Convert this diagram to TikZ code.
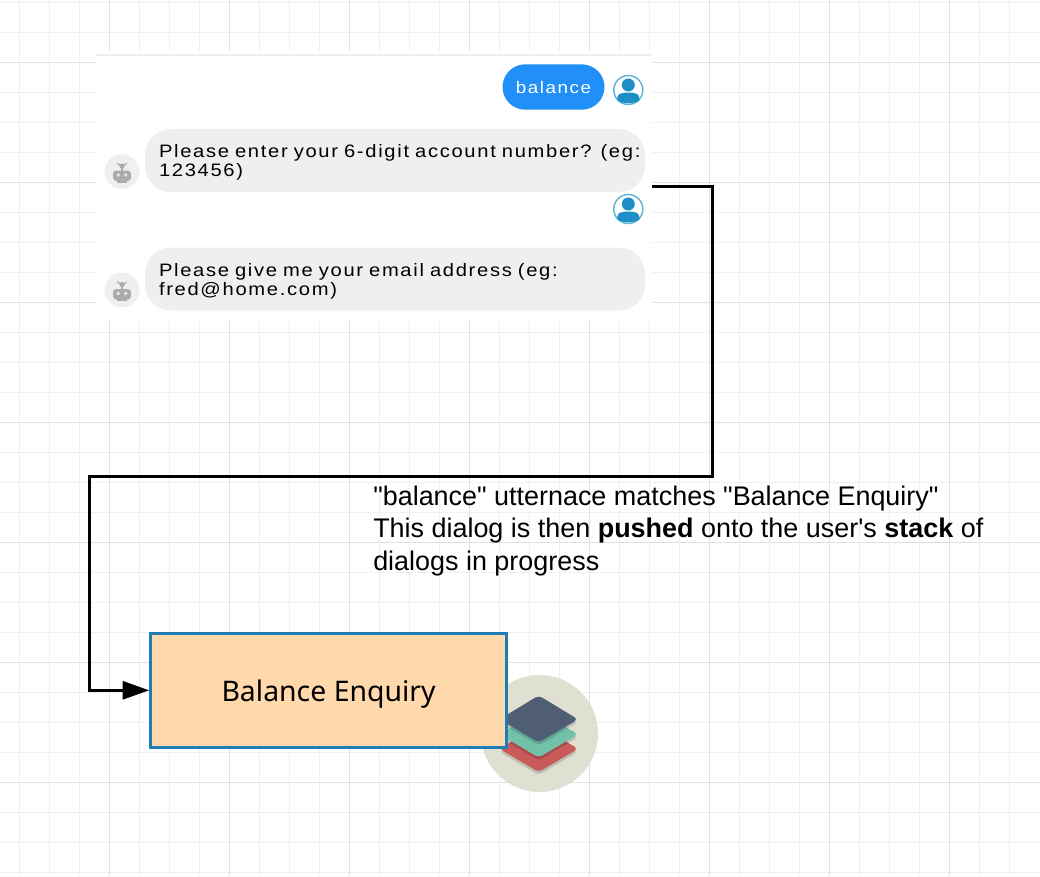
\documentclass[tikz,border=0pt]{standalone}
\usepackage{fontspec}
\setmainfont{Liberation Sans}[Ligatures=TeXOff]
\newfontfamily\chatfont[LetterSpace=9.4,FakeStretch=1.12]{Liberation Sans}
\newfontfamily\boxfont{Noto Sans}
\usetikzlibrary{arrows.meta}

\definecolor{gridminor}{HTML}{F0F0F0}
\definecolor{gridmajor}{HTML}{E0E0E0}
\definecolor{bubblegrey}{HTML}{EFEFEF}
\definecolor{bubbleblue}{HTML}{208FF8}
\definecolor{userblue}{HTML}{1E8FC6}
\definecolor{userring}{HTML}{62B4DA}
\definecolor{botgrey}{HTML}{ABABAB}
\definecolor{boxfill}{HTML}{FFD9AC}
\definecolor{boxline}{HTML}{1F7DB6}
\definecolor{stackback}{HTML}{DFE0D2}
\definecolor{stackdark}{HTML}{4F5D75}
\definecolor{stackteal}{HTML}{72C2AA}
\definecolor{stackred}{HTML}{C85A5A}

\tikzset{
    botmsg/.style={fill=bubblegrey,rounded corners=19.5pt,minimum width=375pt,
        minimum height=47.25pt,text width=373pt,text height=13pt,inner sep=0pt,align=left,
        execute at begin node={\leftskip=9.5pt},
        font=\chatfont\fontsize{13.5pt}{14pt}\selectfont},
    usermsg/.style={fill=bubbleblue,text=white,rounded corners=17pt,minimum width=76.5pt,
        minimum height=34pt,inner sep=0pt,font=\chatfont\fontsize{12.6pt}{14pt}\selectfont},
    note/.style={anchor=north west,inner sep=0pt,align=left,
        font=\fontsize{20.2pt}{24.4pt}\selectfont},
    dialogbox/.style={draw=boxline,line width=2.25pt,fill=boxfill,minimum width=266.8pt,
        minimum height=85.7pt,inner sep=0pt,text depth=0pt,font=\boxfont\fontsize{21.3pt}{25pt}\selectfont},
    flow/.style={draw,line width=2.25pt,-{Triangle[length=20pt,width=13.5pt,sep=0pt]}},
    botface/.pic={
        \fill [bubblegrey] (0,0) circle (13pt);
        \draw [botgrey,line width=0.9pt] (-4.7,-8.3) arc (150:30:5.4);
        \fill [botgrey] (0,-5.5) circle (2.5);
        \fill [botgrey] (-1.4,-4) rectangle (1.4,0);
        \fill [botgrey,rounded corners=2.5pt] (-9,-1) rectangle (9,9.5);
        \fill [botgrey] (-5,8) rectangle (5,11);
        \fill [white!70!botgrey] (-3.8,3.5) circle (1.9) (3.8,3.5) circle (1.9);
    },
    userface/.pic={
        \fill [white] (0,0) circle (14.5);
        \draw [userring,line width=1.1pt] (0,0) circle (14.5);
        \fill [userblue] (0,-5) circle (6.5);
        \fill [userblue] (-11,10.5) -- (-11,7.5) .. controls (-10,3.5) and (-7,3) .. (-4,2.7)
            -- (4,2.7) .. controls (7,3) and (10,3.5) .. (11,7.5) -- (11,10.5)
            .. controls (5,14.2) and (-5,14.2) .. (-11,10.5) -- cycle;
    }
}

\begin{document}
\begin{tikzpicture}[x=0.75pt,y=-0.75pt]
\useasboundingbox (0,0) rectangle (1040,876);
\fill [white] (0,0) rectangle (1040,876);
% grid
\foreach \gx in {19.5,49.5,...,1030}
    \draw [gridminor,line width=0.75pt] (\gx,0) -- (\gx,876);
\foreach \gy in {2.5,32.5,...,876}
    \draw [gridminor,line width=0.75pt] (0,\gy) -- (1040,\gy);
\foreach \gx in {109.5,229.5,...,1030}
    \draw [gridmajor,line width=0.75pt] (\gx,0) -- (\gx,876);
\foreach \gy in {62.5,182.5,...,876}
    \draw [gridmajor,line width=0.75pt] (0,\gy) -- (1040,\gy);
% chat panel
\node [fill=white,minimum width=417pt,minimum height=202.5pt,inner sep=0pt] (chat) at (374,185.5) {};
\fill [bubblegrey] (chat.north west |- 0,53.5) rectangle (chat.north east |- 0,55.5);
\node [usermsg] (balance) at (553.5,87) {balance};
\node [botmsg] (askaccount) at (395,160.5) {Please enter your 6-digit account number? (eg:\\123456)};
\node [botmsg] (askemail) at (395,279) {Please give me your email address (eg:\\fred@home.com)};
\pic at (122,171.5) {botface};
\pic at (122,290) {botface};
\pic at (628.3,90) {userface};
\pic at (628.3,209) {userface};
% stack icon
\fill [stackback] (539.5,733.5) circle (58.5);
\foreach \sy/\scol in {29.5/stackred,15/stackteal,0/stackdark} {
    \fill [black,opacity=0.15,rounded corners=3pt] (538.7,698.5+\sy) -- (578,722.3+\sy) -- (538.7,745.5+\sy) -- (499.5,722.3+\sy) -- cycle;
    \fill [\scol,rounded corners=3pt] (538.7,695.5+\sy) -- (578,719.3+\sy) -- (538.7,742.5+\sy) -- (499.5,719.3+\sy) -- cycle;
}
% dialog and connector
\node [dialogbox] (enquiry) at (328.6,690.3) {Balance Enquiry};
\coordinate (chatout) at (652,186);
\coordinate (upper) at (712,476);
\coordinate (lower) at (89,690.3);
\draw [flow] (chatout) -| (upper) -| (lower) -- (enquiry.west);
\node [note] (explain) at (373,485.5) {"balance" utternace matches "Balance Enquiry"\\This dialog is then \textbf{pushed} onto the user's \textbf{stack} of\\dialogs in progress};
\end{tikzpicture}
\end{document}
